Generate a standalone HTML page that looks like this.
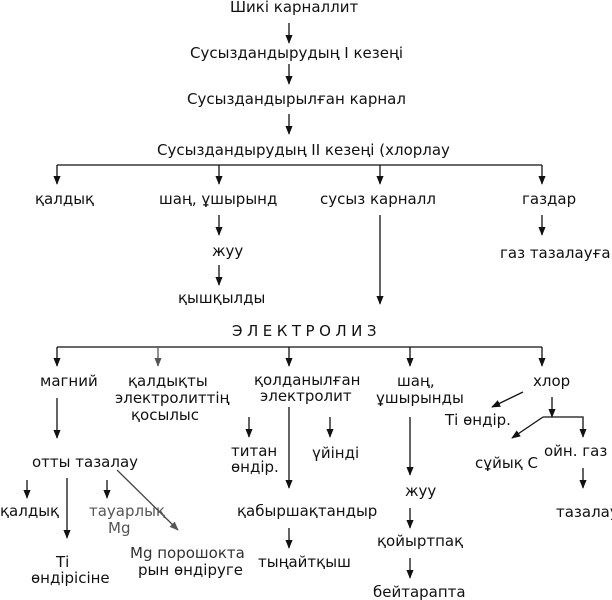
<!DOCTYPE html>
<html><head><meta charset="utf-8"><style>
html,body{margin:0;padding:0;background:#fff;width:612px;height:600px;overflow:hidden}
svg{display:block}
text{font-family:"DejaVu Sans","Liberation Sans",sans-serif;font-size:15px;fill:#111;dominant-baseline:central}
</style></head><body>
<svg width="612" height="600" viewBox="0 0 612 600" xmlns="http://www.w3.org/2000/svg">
<defs>
<marker id="a" viewBox="0 0 10 10" refX="9" refY="5" markerWidth="7" markerHeight="7" orient="auto"><path d="M0,1 L10,5 L0,9 z" fill="#111"/></marker>
<marker id="g" viewBox="0 0 10 10" refX="9" refY="5" markerWidth="7" markerHeight="7" orient="auto"><path d="M0,1 L10,5 L0,9 z" fill="#555"/></marker>
</defs>
<g stroke="#111" stroke-width="1.3" fill="none">
<line x1="289" y1="23" x2="289" y2="43" marker-end="url(#a)"/>
<line x1="289" y1="64" x2="289" y2="84" marker-end="url(#a)"/>
<line x1="289" y1="114" x2="289" y2="134" marker-end="url(#a)"/>
<line x1="57" y1="165" x2="542" y2="165"/>
<line x1="57" y1="165" x2="57" y2="184" marker-end="url(#a)"/>
<line x1="219" y1="165" x2="219" y2="184" marker-end="url(#a)"/>
<line x1="380" y1="165" x2="380" y2="184" marker-end="url(#a)"/>
<line x1="542" y1="165" x2="542" y2="184" marker-end="url(#a)"/>
<line x1="219" y1="215" x2="219" y2="235" marker-end="url(#a)"/>
<line x1="219" y1="265" x2="219" y2="285" marker-end="url(#a)"/>
<line x1="380" y1="215" x2="380" y2="304" marker-end="url(#a)"/>
<line x1="542" y1="215" x2="542" y2="235" marker-end="url(#a)"/>
<line x1="57" y1="347" x2="542" y2="347"/>
<line x1="57" y1="347" x2="57" y2="366" marker-end="url(#a)"/>
<line x1="158" y1="347" x2="158" y2="366" stroke="#555" marker-end="url(#g)"/>
<line x1="289" y1="347" x2="289" y2="366" marker-end="url(#a)"/>
<line x1="410" y1="347" x2="410" y2="366" marker-end="url(#a)"/>
<line x1="542" y1="347" x2="542" y2="366" marker-end="url(#a)"/>
<line x1="57" y1="398" x2="57" y2="438" marker-end="url(#a)"/>
<line x1="289" y1="407" x2="289" y2="488" marker-end="url(#a)"/>
<line x1="249" y1="417" x2="249" y2="437" marker-end="url(#a)"/>
<line x1="330" y1="417" x2="330" y2="437" marker-end="url(#a)"/>
<line x1="410" y1="417" x2="410" y2="475" marker-end="url(#a)"/>
<line x1="410" y1="508" x2="410" y2="528" marker-end="url(#a)"/>
<line x1="410" y1="558" x2="410" y2="578" marker-end="url(#a)"/>
<line x1="523" y1="392" x2="492" y2="407" marker-end="url(#a)"/>
<line x1="552" y1="397" x2="552" y2="417" marker-end="url(#a)"/>
<polyline points="543,417 583,417 583,437" marker-end="url(#a)"/>
<line x1="543" y1="417" x2="512" y2="438" marker-end="url(#a)"/>
<line x1="583" y1="468" x2="583" y2="488" marker-end="url(#a)"/>
<line x1="27" y1="480" x2="27" y2="498" marker-end="url(#a)"/>
<line x1="107" y1="480" x2="107" y2="498" marker-end="url(#a)"/>
<line x1="67" y1="478" x2="67" y2="538" marker-end="url(#a)"/>
<line x1="117" y1="470" x2="178" y2="530" stroke="#444" marker-end="url(#g)"/>
<line x1="289" y1="528" x2="289" y2="548" marker-end="url(#a)"/>
</g>
<text x="230" y="7">Шикі карналлит</text>
<text x="190" y="53">Сусыздандырудың І кезеңі</text>
<text x="187" y="99">Сусыздандырылған карнал</text>
<text x="157" y="150">Сусыздандырудың ІІ кезеңі (хлорлау</text>
<text x="35" y="199">қалдық</text>
<text x="159" y="199">шаң, ұшырынд</text>
<text x="320" y="199">сусыз карналл</text>
<text x="522" y="199">газдар</text>
<text x="212" y="251">жуу</text>
<text x="178" y="298">қышқылды</text>
<text x="500" y="253">газ тазалауға</text>
<text x="232" y="331" style="letter-spacing:4.5px">ЭЛЕКТРОЛИЗ</text>
<text x="40" y="381">магний</text>
<text x="128" y="381">қалдықты</text>
<text x="115" y="398">электролиттің</text>
<text x="131" y="415">қосылыс</text>
<text x="254" y="380">қолданылған</text>
<text x="260" y="396">электролит</text>
<text x="397" y="381">шаң,</text>
<text x="376" y="398">ұшырынды</text>
<text x="533" y="381">хлор</text>
<text x="445" y="420">Ті өндір.</text>
<text x="231" y="451">титан</text>
<text x="231" y="467">өндір.</text>
<text x="312" y="453">үйінді</text>
<text x="32" y="462">отты тазалау</text>
<text x="475" y="463">сұйық С</text>
<text x="544" y="451">ойн. газ</text>
<text x="556" y="512">тазалау</text>
<text x="0" y="511">қалдық</text>
<text x="89" y="511" style="fill:#555">тауарлық</text>
<text x="108" y="528" style="fill:#555">Mg</text>
<text x="56" y="562">Ті</text>
<text x="31" y="578">өндірісіне</text>
<text x="130" y="553" style="fill:#333">Mg порошокта</text>
<text x="138" y="570">рын өндіруге</text>
<text x="237" y="511">қабыршақтандыр</text>
<text x="258" y="562">тыңайтқыш</text>
<text x="405" y="491">жуу</text>
<text x="377" y="541">қойыртпақ</text>
<text x="373" y="592">бейтарапта</text>
</svg>
</body></html>
